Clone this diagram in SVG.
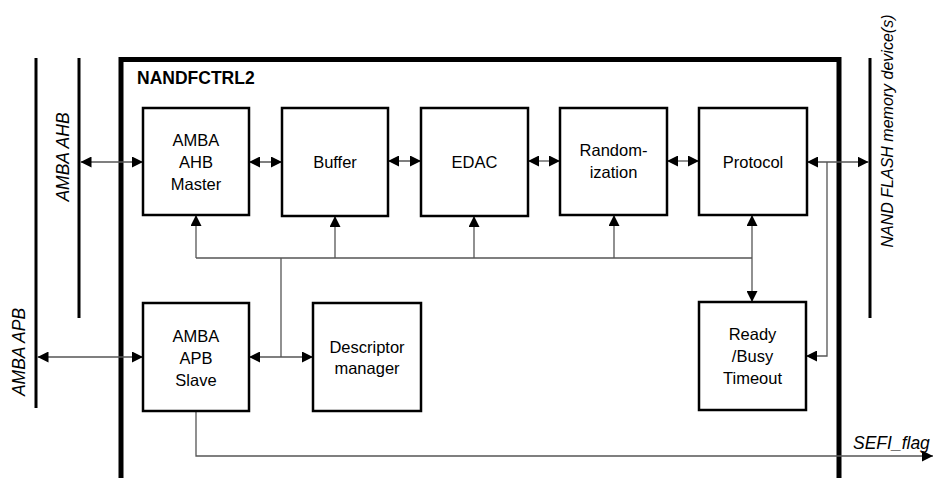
<svg xmlns="http://www.w3.org/2000/svg" width="933" height="478" viewBox="0 0 933 478">
<style>
.box{fill:#fff;stroke:#000;stroke-width:2.5}
.bt{font-family:"Liberation Sans",Arial,sans-serif;font-size:16.5px;fill:#000;text-anchor:middle}
.it{font-family:"Liberation Sans",Arial,sans-serif;font-style:italic;fill:#000}
.bus{stroke:#000;stroke-width:3;fill:none}
.c{stroke:#555;stroke-width:1.3;fill:none}
.ca{stroke:#555;stroke-width:1.3;fill:none;marker-end:url(#ah)}
.cb{stroke:#555;stroke-width:1.3;fill:none;marker-start:url(#ah);marker-end:url(#ah)}
</style>
<defs>
<marker id="ah" markerUnits="userSpaceOnUse" markerWidth="11" markerHeight="11" refX="11" refY="5.5" orient="auto-start-reverse" viewBox="0 0 11 11">
<path d="M0,0 L11,5.5 L0,11 z" fill="#000"/>
</marker>
</defs>
<rect width="933" height="478" fill="#fff"/>

<g id="buses">
<line class="bus" x1="36" y1="58" x2="36" y2="408"/>
<line class="bus" x1="79" y1="58" x2="79" y2="318"/>
<line class="bus" x1="870" y1="58" x2="870" y2="318"/>
<text class="it" font-size="17.5" transform="translate(69,157) rotate(-90)" text-anchor="middle">AMBA AHB</text>
<text class="it" font-size="17.5" transform="translate(25,352) rotate(-90)" text-anchor="middle">AMBA APB</text>
<text class="it" font-size="16" transform="translate(893,131) rotate(-90)" text-anchor="middle">NAND FLASH memory device(s)</text>
</g>

<g id="nandfctrl2">
<path d="M121,480 V59.5 H839 V480" fill="none" stroke="#000" stroke-width="5"/>
<text x="137" y="84" font-family="'Liberation Sans',Arial,sans-serif" font-weight="bold" font-size="17.5">NANDFCTRL2</text>
</g>

<g id="connectors">
<path class="cb" d="M80.5,162 H143"/>
<path class="cb" d="M249,162 H282"/>
<path class="cb" d="M388,161 H421"/>
<path class="cb" d="M528,161 H560"/>
<path class="cb" d="M667,161 H699"/>
<path class="cb" d="M807,162 H868.5"/>
<path class="ca" d="M827,162 V356 H806"/>
<path class="c" d="M196,258 H752"/>
<path class="ca" d="M196,258 V215"/>
<path class="ca" d="M335,258 V216"/>
<path class="ca" d="M474,258 V216"/>
<path class="ca" d="M614,258 V215"/>
<path class="cb" d="M752,215 V302"/>
<path class="c" d="M281,258 V357"/>
<path class="cb" d="M249,357 H313"/>
<path class="cb" d="M37.5,357 H143"/>
<path class="ca" d="M196,411 V456 H933"/>
<text class="it" font-size="17.5" x="853" y="449">SEFI_flag</text>
</g>

<g id="ahb-master">
<rect class="box" x="143" y="108" width="106" height="107"/>
<text class="bt" x="196" y="146">AMBA</text>
<text class="bt" x="196" y="168">AHB</text>
<text class="bt" x="196" y="190">Master</text>
</g>
<g id="buffer">
<rect class="box" x="282" y="108" width="106" height="108"/>
<text class="bt" x="335" y="168">Buffer</text>
</g>
<g id="edac">
<rect class="box" x="421" y="108" width="107" height="108"/>
<text class="bt" x="474.5" y="168">EDAC</text>
</g>
<g id="randomization">
<rect class="box" x="560" y="108" width="107" height="107"/>
<text class="bt" x="613.5" y="156">Random-</text>
<text class="bt" x="613.5" y="178">ization</text>
</g>
<g id="protocol">
<rect class="box" x="699" y="108" width="108" height="107"/>
<text class="bt" x="753" y="168">Protocol</text>
</g>
<g id="apb-slave">
<rect class="box" x="143" y="303" width="106" height="108"/>
<text class="bt" x="196" y="342">AMBA</text>
<text class="bt" x="196" y="364">APB</text>
<text class="bt" x="196" y="386">Slave</text>
</g>
<g id="descriptor-manager">
<rect class="box" x="313" y="303" width="108" height="108"/>
<text class="bt" x="367" y="353">Descriptor</text>
<text class="bt" x="367" y="374">manager</text>
</g>
<g id="ready-busy-timeout">
<rect class="box" x="699" y="302" width="107" height="108"/>
<text class="bt" x="752.5" y="340">Ready</text>
<text class="bt" x="752.5" y="362">/Busy</text>
<text class="bt" x="752.5" y="384">Timeout</text>
</g>
</svg>
